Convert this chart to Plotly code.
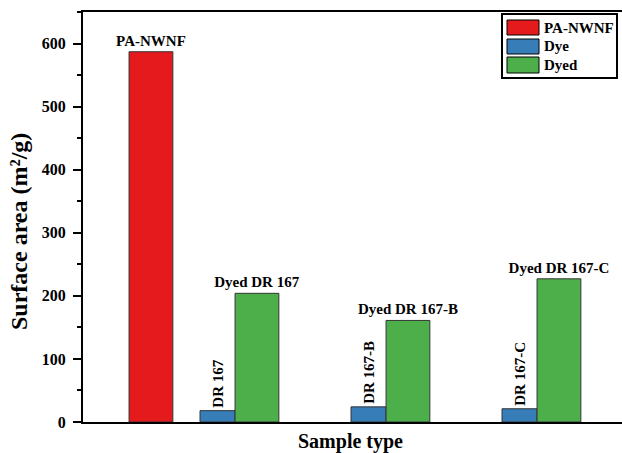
import plotly.graph_objects as go

# ---- data ----
pa_labels = ["PA-NWNF"]
pa_values = [587]
dye_labels = ["DR 167", "DR 167-B", "DR 167-C"]
dye_values = [18, 24, 21]
dyed_labels = ["Dyed DR 167", "Dyed DR 167-B", "Dyed DR 167-C"]
dyed_values = [204, 161, 227]
series_names = ["PA-NWNF", "Dye", "Dyed"]
y_ticks = [0, 100, 200, 300, 400, 500, 600]

# ---- layout helpers (positions / styles) ----
pa_pos = [1.443]
group_pos = [2, 3, 4]
colors = ["#E41A1C", "#377EB8", "#4DAF4A"]
FONT = "Liberation Serif"
W, H = 622, 453
L, R, T, B = 83, 0, 12, 31
PW, PH = W - L - R, H - T - B

def px_x(p):
    return (p - L) / PW

def px_y(p):
    return (H - B - p) / PH

outline = dict(color="#333333", width=1)
lab_font = dict(family=FONT, size=15, color="black", weight="bold")

fig = go.Figure()
fig.add_trace(go.Bar(
    x=pa_pos, y=pa_values, width=0.29, name=series_names[0],
    marker=dict(color=colors[0], line=outline),
    text=pa_labels, textposition="outside", textangle=0,
    textfont=lab_font, constraintext="none", cliponaxis=False,
))
fig.add_trace(go.Bar(
    x=group_pos, y=dye_values, width=0.232, offset=-0.232, name=series_names[1],
    marker=dict(color=colors[1], line=outline),
    text=dye_labels, textposition="outside", textangle=-90,
    textfont=lab_font, constraintext="none", cliponaxis=False,
))
fig.add_trace(go.Bar(
    x=group_pos, y=dyed_values, width=0.29, offset=0, name=series_names[2],
    marker=dict(color=colors[2], line=outline),
    text=dyed_labels, textposition="outside", textangle=0,
    textfont=lab_font, constraintext="none", cliponaxis=False,
))

# custom legend (wide swatches like the reference)
shapes = [dict(type="rect", xref="paper", yref="paper",
               x0=px_x(502), x1=px_x(617), y0=px_y(14), y1=px_y(78),
               line=dict(color="black", width=2), fillcolor="white", layer="above")]
annotations = []
rows = [(20, 35), (39, 54), (57, 73)]
for (ya, yb), c, n in zip(rows, colors, series_names):
    shapes.append(dict(type="rect", xref="paper", yref="paper",
                       x0=px_x(507), x1=px_x(539), y0=px_y(ya), y1=px_y(yb),
                       line=dict(color="black", width=1), fillcolor=c, layer="above"))
    annotations.append(dict(xref="paper", yref="paper", x=px_x(542), y=px_y((ya + yb) / 2),
                            text=n, showarrow=False, xanchor="left", yanchor="middle",
                            font=dict(family=FONT, size=15, color="black", weight="bold")))

annotations.append(dict(xref="paper", yref="paper", x=px_x(350), y=px_y(441),
                        text="Sample type", showarrow=False, xanchor="center", yanchor="middle",
                        font=dict(family=FONT, size=20, color="black", weight="bold")))
annotations.append(dict(xref="paper", yref="paper", x=px_x(19), y=px_y(232),
                        text="Surface area (m²/g)", showarrow=False, textangle=-90,
                        xanchor="center", yanchor="middle",
                        font=dict(family=FONT, size=24, color="black", weight="bold")))

fig.update_layout(
    width=W, height=H,
    margin=dict(l=L, r=R, t=T, b=B, pad=0),
    paper_bgcolor="white", plot_bgcolor="white",
    showlegend=False,
    barmode="overlay",
    shapes=shapes, annotations=annotations,
    xaxis=dict(range=[0.993, 0.993 + PW / 151], showgrid=False, zeroline=False,
               showline=True, linecolor="black", linewidth=2, mirror=True,
               ticks="", showticklabels=False, automargin=False),
    yaxis=dict(range=[0, 650], showgrid=False, zeroline=False,
               showline=True, linecolor="black", linewidth=2, mirror=False,
               tickvals=y_ticks, ticks="outside", ticklen=8, tickwidth=2, tickcolor="black",
               minor=dict(dtick=50, tick0=0, ticks="outside", ticklen=4, tickwidth=2, tickcolor="black"),
               tickfont=dict(family=FONT, size=16, color="black", weight="bold"),
               ticklabelstandoff=4, automargin=False),
)

fig.write_html("out.html", config={"displayModeBar": False},
               post_script="document.body.style.margin='0';document.body.style.overflow='hidden';")
